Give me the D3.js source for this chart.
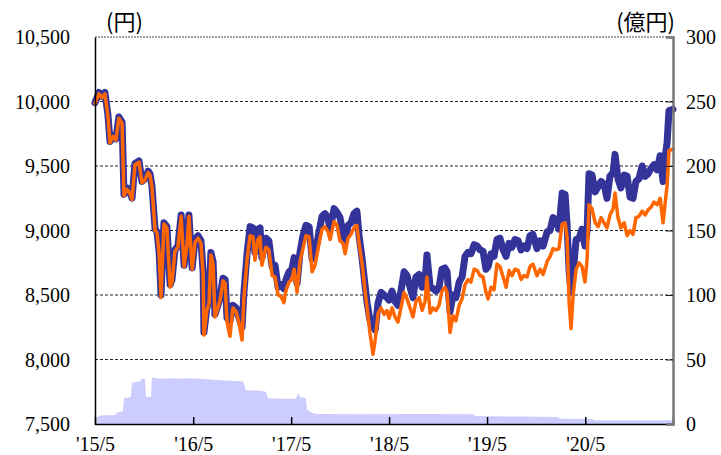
<!DOCTYPE html>
<html>
<head>
<meta charset="utf-8">
<script src="https://cdn.jsdelivr.net/npm/d3@7"></script>
<style>
  html, body { margin: 0; padding: 0; background: #fff; }
  svg { display: block; }
</style>
</head>
<body>
<div id="chart"></div>
<script>
// line series (left axis, yen)
const lineDates = [
  '2015-05-01', '2015-05-16', '2015-05-27', '2015-06-07', '2015-06-18', '2015-06-26', '2015-07-07', '2015-07-18', '2015-07-29', '2015-08-10',
  '2015-08-17', '2015-08-28', '2015-09-08', '2015-09-16', '2015-09-27', '2015-10-12', '2015-10-23', '2015-11-03', '2015-11-15', '2015-11-22',
  '2015-11-29', '2015-12-11', '2015-12-18', '2015-12-26', '2016-01-02', '2016-01-13', '2016-01-24', '2016-02-05', '2016-02-12', '2016-02-23',
  '2016-03-05', '2016-03-17', '2016-03-28', '2016-04-08', '2016-04-15', '2016-04-27', '2016-05-08', '2016-05-19', '2016-05-30', '2016-06-07',
  '2016-06-10', '2016-06-21', '2016-06-29', '2016-07-06', '2016-07-14', '2016-07-21', '2016-08-01', '2016-08-09', '2016-08-20', '2016-08-28',
  '2016-09-04', '2016-09-15', '2016-09-26', '2016-10-08', '2016-10-19', '2016-10-30', '2016-11-06', '2016-11-18', '2016-11-29', '2016-12-10',
  '2016-12-17', '2016-12-28', '2017-01-05', '2017-01-12', '2017-01-27', '2017-02-07', '2017-02-19', '2017-03-02', '2017-03-13', '2017-03-24',
  '2017-04-04', '2017-04-12', '2017-04-23', '2017-05-04', '2017-05-12', '2017-05-23', '2017-06-03', '2017-06-14', '2017-06-25', '2017-07-07',
  '2017-07-18', '2017-07-29', '2017-08-13', '2017-08-24', '2017-09-04', '2017-09-15', '2017-09-23', '2017-10-08', '2017-10-19', '2017-10-30',
  '2017-11-10', '2017-11-18', '2017-11-29', '2017-12-10', '2017-12-21', '2018-01-01', '2018-01-09', '2018-01-20', '2018-01-31', '2018-02-08',
  '2018-02-19', '2018-02-26', '2018-03-02', '2018-03-10', '2018-03-21', '2018-04-01', '2018-04-12', '2018-04-23', '2018-05-01', '2018-05-12',
  '2018-05-23', '2018-06-03', '2018-06-14', '2018-06-26', '2018-07-07', '2018-07-18', '2018-07-29', '2018-08-09', '2018-08-21', '2018-09-01',
  '2018-09-12', '2018-09-19', '2018-10-01', '2018-10-12', '2018-10-23', '2018-11-03', '2018-11-14', '2018-11-25', '2018-12-03', '2018-12-14',
  '2018-12-25', '2019-01-05', '2019-01-17', '2019-01-28', '2019-02-08', '2019-02-19', '2019-03-02', '2019-03-14', '2019-03-25', '2019-04-05',
  '2019-04-16', '2019-04-27', '2019-05-05', '2019-05-16', '2019-05-27', '2019-06-07', '2019-06-18', '2019-06-30', '2019-07-11', '2019-07-22',
  '2019-08-02', '2019-08-13', '2019-08-25', '2019-09-05', '2019-09-16', '2019-09-27', '2019-10-08', '2019-10-19', '2019-11-03', '2019-11-15',
  '2019-11-26', '2019-12-11', '2019-12-22', '2020-01-02', '2020-01-13', '2020-01-24', '2020-02-05', '2020-02-16', '2020-02-23', '2020-03-02',
  '2020-03-09', '2020-03-17', '2020-03-28', '2020-04-08', '2020-04-19', '2020-04-30', '2020-05-08', '2020-05-15', '2020-05-26', '2020-06-07',
  '2020-06-18', '2020-06-29', '2020-07-10', '2020-07-21', '2020-08-01', '2020-08-13', '2020-08-20', '2020-08-31', '2020-09-11', '2020-09-23',
  '2020-10-04', '2020-10-15', '2020-10-26', '2020-11-06', '2020-11-17', '2020-11-29', '2020-12-10', '2020-12-21', '2021-01-01', '2021-01-12',
  '2021-01-24', '2021-02-04', '2021-02-15', '2021-02-22', '2021-03-02', '2021-03-09', '2021-03-24'
]

const navySeries = [
  9990, 10070, 10040, 10070, 9900, 9690, 9740, 9710, 9880, 9840,
  9280, 9330, 9300, 9250, 9520, 9540, 9380, 9400, 9460, 9440,
  9350, 9010, 8990, 8830, 8500, 9060, 9030, 8580, 8620, 8850,
  8880, 9120, 8730, 8900, 9120, 8710, 8930, 8960, 8920, 8680,
  8210, 8400, 8450, 8830, 8760, 8350, 8420, 8480, 8630, 8620,
  8320, 8300, 8420, 8400, 8320, 8250, 8520, 8830, 9030, 9020,
  8830, 9010, 9020, 8790, 8940, 8920, 8720, 8730, 8560, 8580,
  8550, 8620, 8680, 8700, 8790, 8590, 8830, 8960, 9040, 9030,
  8780, 8820, 8990, 9110, 9130, 9100, 9010, 9170, 9140, 9100,
  8980, 8920, 9040, 9060, 9130, 9150, 8960, 8790, 8580, 8440,
  8300, 8250, 8300, 8230, 8440, 8520, 8500, 8480, 8460, 8530,
  8450, 8420, 8530, 8680, 8650, 8560, 8480, 8640, 8660, 8560,
  8600, 8810, 8560, 8550, 8530, 8560, 8700, 8710, 8680, 8370,
  8500, 8480, 8600, 8640, 8800, 8830, 8820, 8890, 8880, 8850,
  8840, 8700, 8720, 8820, 8800, 8930, 8940, 8850, 8800, 8900,
  8870, 8930, 8920, 8850, 8880, 8860, 8960, 8970, 8860, 8920,
  8880, 8990, 9000, 9100, 9080, 9010, 9290, 9280, 9050, 8680,
  8520, 8680, 8930, 8940, 9010, 8880, 9000, 9440, 9430, 9300,
  9340, 9380, 9360, 9250, 9420, 9450, 9590, 9400, 9330, 9430,
  9420, 9260, 9250, 9380, 9400, 9500, 9420, 9440, 9480, 9510,
  9470, 9580, 9380, 9560, 9680, 9930, 9940
]

const orangeSeries = [
  9985, 10060, 10030, 10060, 9890, 9680, 9730, 9700, 9870, 9830,
  9270, 9320, 9290, 9240, 9510, 9530, 9370, 9390, 9450, 9430,
  9340, 9000, 8980, 8820, 8480, 9050, 9020, 8560, 8600, 8840,
  8870, 9110, 8720, 8890, 9110, 8700, 8910, 8940, 8900, 8660,
  8190, 8380, 8430, 8810, 8740, 8330, 8400, 8460, 8610, 8590,
  8290, 8180, 8400, 8370, 8280, 8150, 8480, 8780, 8960, 8950,
  8770, 8930, 8950, 8730, 8870, 8850, 8650, 8640, 8500, 8490,
  8440, 8540, 8600, 8620, 8700, 8520, 8760, 8860, 8960, 8950,
  8680, 8730, 8900, 9010, 9030, 8990, 8930, 9070, 9040, 8920,
  8900, 8820, 8940, 8970, 9020, 9040, 8900, 8750, 8540, 8400,
  8200, 8100, 8040, 8150, 8360, 8400, 8350, 8380, 8320, 8400,
  8330, 8290, 8400, 8520, 8470, 8400, 8330, 8450, 8480, 8380,
  8450, 8640, 8360, 8400, 8380, 8420, 8530, 8560, 8520, 8210,
  8340, 8300, 8420, 8470, 8580, 8620, 8600, 8700, 8690, 8650,
  8640, 8520, 8470, 8560, 8540, 8740, 8720, 8640, 8560, 8690,
  8650, 8700, 8690, 8620, 8650, 8640, 8720, 8740, 8650, 8700,
  8660, 8760, 8800, 8860, 8850, 8860, 9050, 9060, 8950, 8440,
  8240, 8500, 8700, 8750, 8720, 8600, 8780, 9200, 9170, 9060,
  9030, 9100, 9060, 9020, 9120, 9170, 9290, 9100, 9020, 9060,
  8960, 9000, 8970, 9100, 9110, 9150, 9120, 9160, 9180, 9220,
  9200, 9250, 9060, 9200, 9350, 9620, 9630
]

// area series (right axis, 億円)
const areaDates = [
  '2015-05-08', '2015-05-20', '2015-07-15', '2015-07-22', '2015-08-13', '2015-08-17', '2015-09-12', '2015-09-16', '2015-10-16', '2015-10-23',
  '2015-11-03', '2015-11-07', '2015-11-26', '2015-11-29', '2015-12-29', '2016-02-05', '2016-03-13', '2016-04-19', '2016-05-26', '2016-07-03',
  '2016-08-09', '2016-09-15', '2016-11-03', '2016-11-14', '2016-12-28', '2017-01-27', '2017-02-04', '2017-03-21', '2017-05-19', '2017-05-27',
  '2017-06-03', '2017-06-25', '2017-06-29', '2017-07-18', '2017-08-02', '2018-01-13', '2018-08-24', '2019-03-10', '2019-03-17', '2019-09-01',
  '2020-01-17', '2020-01-28', '2020-05-26', '2020-06-03', '2021-03-20'
]

const areaSeries = [
  5, 6.5, 7, 9, 10, 20, 21, 32, 33, 35,
  35, 21, 21, 36, 35, 35.5, 35, 35.5, 35, 34.5,
  34, 33.5, 33, 26, 26, 25, 20, 19.5, 19.5, 24,
  21, 20, 11, 8.7, 7.8, 7.6, 7.7, 7.5, 6.2, 5.8,
  5.5, 4, 3.8, 3, 3
]

const leftTicks = [7500, 8000, 8500, 9000, 9500, 10000, 10500]
const rightTicks = [0, 50, 100, 150, 200, 250, 300]
const xTickDates = ['2015-05-01', '2016-05-01', '2017-05-01', '2018-05-01', '2019-05-01', '2020-05-01']
const xTickLabels = ["'15/5", "'16/5", "'17/5", "'18/5", "'19/5", "'20/5"]

const leftUnit = '(円)'
const rightUnit = '(億円)'

const colors = {
  navy: '#333399',
  orange: '#FF6600',
  area: '#CCCCFF'
}

const serif = "'Liberation Serif', 'Times New Roman', serif"
const cjk = "'Noto Sans CJK JP', sans-serif"

function chart () {
  const width = 721
  const height = 455
  const margin = { top: 37, right: 48, bottom: 31, left: 95 }
  const chartWidth = width - margin.left - margin.right
  const chartHeight = height - margin.top - margin.bottom
  const parseDate = d3.timeParse('%Y-%m-%d')

  const navy = lineDates.map((d, i) => ({ date: parseDate(d), value: navySeries[i] }))
  const orange = lineDates.map((d, i) => ({ date: parseDate(d), value: orangeSeries[i] }))
  const area = areaDates.map((d, i) => ({ date: parseDate(d), value: areaSeries[i] }))

  const xScale = d3.scaleTime()
    .domain([parseDate('2015-05-01'), parseDate('2021-03-24')])
    .range([0, chartWidth])

  const yLeft = d3.scaleLinear()
    .domain([7500, 10500])
    .range([chartHeight, 0])

  const yRight = d3.scaleLinear()
    .domain([0, 300])
    .range([chartHeight, 0])

  const svg = d3.select('#chart')
    .append('svg')
    .attr('width', width)
    .attr('height', height)

  const container = svg.append('g')
    .attr('transform', `translate(${margin.left},${margin.top})`)

  // grid lines
  container.append('g')
    .selectAll('line')
    .data(leftTicks.filter((d) => d > 7500 && d < 10500))
    .enter()
    .append('line')
    .attr('x1', 0)
    .attr('x2', chartWidth)
    .attr('y1', (d) => yLeft(d))
    .attr('y2', (d) => yLeft(d))
    .attr('stroke', '#222')
    .attr('stroke-width', 1)
    .attr('stroke-dasharray', '3,2')

  // top border
  container.append('line')
    .attr('x1', 0)
    .attr('x2', chartWidth)
    .attr('y1', 0)
    .attr('y2', 0)
    .attr('stroke', '#888')
    .attr('stroke-width', 1.5)
    .attr('stroke-dasharray', '2,1')

  // area
  const areaGen = d3.area()
    .x((d) => xScale(d.date))
    .y0(yRight(0))
    .y1((d) => yRight(d.value))

  container.append('path')
    .datum(area)
    .attr('d', areaGen)
    .attr('fill', colors.area)

  // lines
  const line = d3.line()
    .x((d) => xScale(d.date))
    .y((d) => yLeft(d.value))

  container.append('path')
    .datum(navy)
    .attr('d', line)
    .attr('fill', 'none')
    .attr('stroke', colors.navy)
    .attr('stroke-width', 7)
    .attr('stroke-linejoin', 'round')
    .attr('stroke-linecap', 'round')

  container.append('path')
    .datum(orange)
    .attr('d', line)
    .attr('fill', 'none')
    .attr('stroke', colors.orange)
    .attr('stroke-width', 3.5)
    .attr('stroke-linejoin', 'round')
    .attr('stroke-linecap', 'round')

  // axes
  const xAxis = d3.axisBottom(xScale)
    .tickValues(xTickDates.map(parseDate))
    .tickSize(-7)
    .tickFormat((d, i) => xTickLabels[i])

  const leftAxis = d3.axisLeft(yLeft)
    .tickValues(leftTicks)
    .tickSize(0)
    .tickPadding(25)
    .tickFormat(d3.format(','))

  const rightAxis = d3.axisRight(yRight)
    .tickValues(rightTicks)
    .tickSize(-7)
    .tickPadding(13)

  const gx = container.append('g')
    .attr('transform', `translate(0,${chartHeight})`)
    .call(xAxis)

  gx.select('.domain').attr('stroke', '#000').attr('stroke-width', 1.5)
  gx.selectAll('.tick line').attr('stroke', '#000').attr('stroke-width', 1.5)
  gx.selectAll('.tick').filter((d, i) => i === 0).select('line').remove()
  gx.selectAll('.tick text')
    .attr('y', 0)
    .attr('dy', 0)
    .attr('transform', 'translate(0,27)')

  const gl = container.append('g')
    .call(leftAxis)

  gl.select('.domain').attr('stroke', '#000').attr('stroke-width', 1.5)
  gl.selectAll('.tick text').attr('dy', '0.33em')

  const gr = container.append('g')
    .attr('transform', `translate(${chartWidth},0)`)
    .call(rightAxis)

  gr.select('.domain').attr('stroke', '#777').attr('stroke-width', 2.5)
  gr.selectAll('.tick line').attr('stroke', '#222').attr('stroke-width', 1)
  gr.selectAll('.tick').filter((d) => d === 0 || d === 300).select('line').remove()
  gr.selectAll('.tick text').attr('dy', '0.33em')

  svg.selectAll('.tick text')
    .attr('fill', '#000')
    .style('font-family', serif)
    .style('font-size', '20px')

  // units
  svg.append('text')
    .attr('x', margin.left + 11)
    .attr('y', 30)
    .style('font-family', cjk)
    .style('font-size', '22px')
    .text(leftUnit)

  svg.append('text')
    .attr('x', margin.left + chartWidth + 2)
    .attr('y', 30)
    .attr('text-anchor', 'end')
    .style('font-family', cjk)
    .style('font-size', '22px')
    .text(rightUnit)
}

chart()
</script>
</body>
</html>
